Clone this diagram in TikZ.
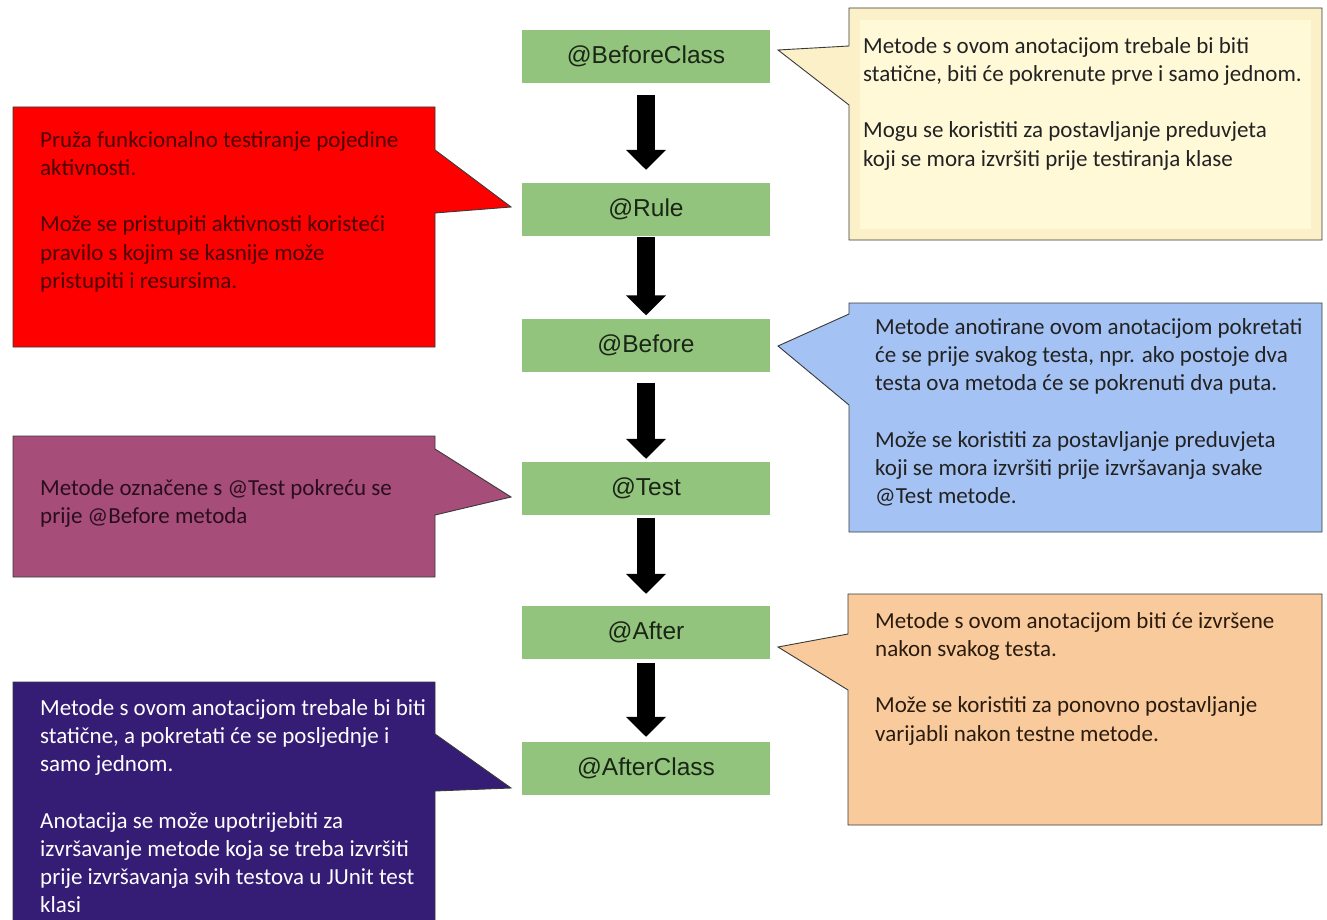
\documentclass[tikz,border=0pt]{standalone}
\usepackage{fontspec}
\setmainfont{Carlito}
\newfontfamily\labelfont{Liberation Sans}
\usetikzlibrary{arrows.meta}

\definecolor{stagegreen}{HTML}{93C47D}
\definecolor{labeltext}{HTML}{1A2616}
\definecolor{edgegray}{HTML}{3A3A3A}
\definecolor{noteyellow}{HTML}{FCF0C8}
\definecolor{noteyellowin}{HTML}{FFF9D8}
\definecolor{notered}{HTML}{FF0000}
\definecolor{notemagenta}{HTML}{A64D79}
\definecolor{noteblue}{HTML}{A4C2F4}
\definecolor{noteorange}{HTML}{F9CB9C}
\definecolor{notepurple}{HTML}{351C75}
\definecolor{darktext}{HTML}{222222}
\definecolor{redtext}{HTML}{4A0000}
\definecolor{magentatext}{HTML}{2A0E1E}
\definecolor{orangetext}{HTML}{2B1B0E}

\begin{document}
\begin{tikzpicture}[x=1pt,y=-1pt,
  stage/.style={fill=stagegreen, minimum width=248pt, minimum height=53pt,
    inner sep=0pt, text=labeltext, font=\labelfont\fontsize{24.5}{28}\selectfont},
  flow/.style={draw=black, line width=18pt, -{Triangle[width=39pt,length=20pt]}},
  bubble/.style={draw=edgegray, line width=0.9pt, line join=miter},
  note/.style={anchor=north west, align=left, inner sep=0pt,
    font=\fontsize{23}{28.3}\selectfont}
]
\useasboundingbox (0,0) rectangle (1327,920);
\fill[white] (0,0) rectangle (1327,920);

% annotation stages, top to bottom
\node[stage] (bc)   at (646,56.5)  {@BeforeClass};
\node[stage] (rule) at (646,209.5) {@Rule};
\node[stage] (bef)  at (646,345)   {@Before};
\node[stage] (test) at (646,488.5) {@Test};
\node[stage] (aft)  at (646,632.5) {@After};
\node[stage] (ac)   at (646,768.5) {@AfterClass};

% block arrows between stages
\draw[flow, shorten <=12pt, shorten >=13pt] (bc.south)   -- (rule.north);
\draw[flow, shorten <=1pt,  shorten >=3pt]  (rule.south) -- (bef.north);
\draw[flow, shorten <=11pt, shorten >=3pt]  (bef.south)  -- (test.north);
\draw[flow, shorten <=3pt,  shorten >=12pt] (test.south) -- (aft.north);
\draw[flow, shorten <=4pt,  shorten >=5pt]  (aft.south)  -- (ac.north);

% callout pointer tips
\coordinate (tipbc)   at (778,50);
\coordinate (tiprule) at (511,207);
\coordinate (tipbef)  at (778,346);
\coordinate (tiptest) at (511,497);
\coordinate (tipaft)  at (778,647);
\coordinate (tipac)   at (511,788);

% @BeforeClass callout
\path[bubble, fill=noteyellow] (849,8) -- (1322,8) -- (1322,240) -- (849,240)
  -- (849,105) -- (tipbc) -- (849,46) -- cycle;
\fill[noteyellowin] (860,20) rectangle (1311,229);
\node[note, text=darktext] (nbc) at (863,37)
  {Metode s ovom anotacijom trebale bi biti\\
   statične, biti će pokrenute prve i samo jednom.\\[28pt]
   Mogu se koristiti za postavljanje preduvjeta\\
   koji se mora izvršiti prije testiranja klase};

% @Rule callout
\path[bubble, fill=notered] (13,107) -- (435,107) -- (435,150) -- (tiprule)
  -- (435,213) -- (435,347) -- (13,347) -- cycle;
\node[note, text=redtext] (nrule) at (40,131)
  {Pruža funkcionalno testiranje pojedine\\
   aktivnosti.\\[28pt]
   Može se pristupiti aktivnosti koristeći\\
   pravilo s kojim se kasnije može\\
   pristupiti i resursima.};

% @Before callout
\path[bubble, fill=noteblue] (849,303) -- (1322,303) -- (1322,532) -- (849,532)
  -- (849,405) -- (tipbef) -- (849,314) -- cycle;
\node[note, text=darktext] (nbef) at (875,318)
  {Metode anotirane ovom anotacijom pokretati\\
   će se prije svakog testa, npr. ako postoje dva\\
   testa ova metoda će se pokrenuti dva puta.\\[28pt]
   Može se koristiti za postavljanje preduvjeta\\
   koji se mora izvršiti prije izvršavanja svake\\
   @Test metode.};

% @Test callout
\path[bubble, fill=notemagenta] (13,436) -- (435,436) -- (435,449) -- (tiptest)
  -- (435,515) -- (435,577) -- (13,577) -- cycle;
\node[note, text=magentatext] (ntest) at (40,479)
  {Metode označene s @Test pokreću se\\
   prije @Before metoda};

% @After callout
\path[bubble, fill=noteorange] (848,594) -- (1322,594) -- (1322,825) -- (848,825)
  -- (848,690) -- (tipaft) -- (848,634) -- cycle;
\node[note, text=orangetext] (naft) at (875,612)
  {Metode s ovom anotacijom biti će izvršene\\
   nakon svakog testa.\\[28pt]
   Može se koristiti za ponovno postavljanje\\
   varijabli nakon testne metode.};

% @AfterClass callout
\path[bubble, fill=notepurple] (13,682) -- (435,682) -- (435,734) -- (tipac)
  -- (435,791) -- (435,935) -- (13,935) -- cycle;
\node[note, text=white] (nac) at (40,699)
  {Metode s ovom anotacijom trebale bi biti\\
   statične, a pokretati će se posljednje i\\
   samo jednom.\\[28pt]
   Anotacija se može upotrijebiti za\\
   izvršavanje metode koja se treba izvršiti\\
   prije izvršavanja svih testova u JUnit test\\
   klasi};
\end{tikzpicture}
\end{document}
